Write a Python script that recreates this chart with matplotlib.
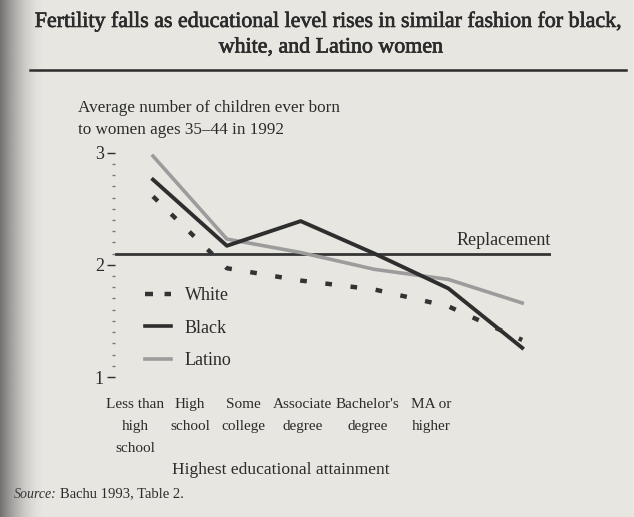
import numpy as np
import matplotlib
matplotlib.use("Agg")
import matplotlib.pyplot as plt
from matplotlib.lines import Line2D
import matplotlib.patheffects as pe

# average children ever born, women 35-44, 1992
levels = ["Less than\nhigh\nschool", "High\nschool", "Some\ncollege",
          "Associate\ndegree", "Bachelor's\ndegree", "MA or\nhigher"]
white = [2.61, 1.97, 1.86, 1.78, 1.63, 1.33]
black = [2.76, 2.17, 2.39, 2.10, 1.79, 1.26]
latino = [2.97, 2.23, 2.11, 1.96, 1.87, 1.66]
replacement = 2.1

# where the category captions sit along the axis (layout only)
label_pos = [-0.24, 0.50, 1.22, 2.03, 2.91, 3.77]

PAPER = "#e8e6e1"
INK = "#2b2b2b"
W, H = 634, 517

plt.rcParams["font.family"] = ["Liberation Serif", "DejaVu Serif"]
fig = plt.figure(figsize=(W / 100, H / 100), dpi=100, facecolor=PAPER)


def fx(px):
    return px / W


def fy(py):
    return 1 - py / H


ax = fig.add_axes([fx(115), fy(377), fx(551) - fx(115), fy(152.7) - fy(377)])
ax.set_facecolor("none")
x = np.arange(len(levels))

ax.axhline(replacement, color="#353535", lw=2.0, zorder=1)
ax.text(1.0, replacement + 0.12, "Replacement", transform=ax.get_yaxis_transform(),
        ha="right", va="center", fontsize=13, color=INK)

ax.plot(x, latino, color="#9c9c9c", lw=2.6, solid_joinstyle="round", clip_on=False, zorder=2)
ax.plot(x, black, color="#2e2e2e", lw=2.8, solid_joinstyle="round", clip_on=False, zorder=3)
ax.plot(x, white, color="#333333", lw=3.2, linestyle=(0, (1.5, 4.2)),
        dash_capstyle="butt", clip_on=False, zorder=4)

ax.set_xlim(-0.515, 5.39)
ax.set_ylim(1, 3)
for s in ax.spines.values():
    s.set_visible(False)
ax.set_yticks([1, 2, 3])
ax.set_yticks(np.arange(1.1, 3.0, 0.1), minor=True)
ax.tick_params(axis="y", which="major", length=6, width=1.0, pad=2,
               labelsize=13, colors=INK)
ax.tick_params(axis="y", which="minor", length=2, width=1.0, colors="#777777")
ax.set_xticks(label_pos)
ax.set_xticklabels(levels, fontsize=11, color=INK, linespacing=1.9)
ax.tick_params(axis="x", length=0, pad=15)

handles = [Line2D([], [], color="#333333", lw=3.2, linestyle=(0, (1.8, 2.6)), dash_capstyle="butt"),
           Line2D([], [], color="#2e2e2e", lw=2.6),
           Line2D([], [], color="#9c9c9c", lw=2.6)]
fig.legend(handles, ["White", "Black", "Latino"], loc="upper left",
           bbox_to_anchor=(fx(129), fy(271)), frameon=False, fontsize=13,
           handlelength=1.4, handletextpad=0.8, labelspacing=0.85, labelcolor=INK)

# headings
thick = [pe.withStroke(linewidth=0.5, foreground=INK)]
fig.text(fx(328), fy(22), "Fertility falls as educational level rises in similar fashion for black,",
         ha="center", va="center", fontsize=15.8, color=INK, path_effects=thick)
fig.text(fx(331), fy(48), "white, and Latino women",
         ha="center", va="center", fontsize=15.8, color=INK, path_effects=thick)
fig.add_artist(Line2D([fx(30), fx(626)], [fy(70), fy(70)], color="#2a2a2a", lw=1.8))
fig.text(fx(78), fy(108), "Average number of children ever born",
         ha="left", va="center", fontsize=12.3, color=INK)
fig.text(fx(78), fy(130), "to women ages 35\u201344 in 1992",
         ha="left", va="center", fontsize=12.3, color=INK)
fig.text(fx(281), fy(470), "Highest educational attainment",
         ha="center", va="center", fontsize=12.6, color=INK)
src = fig.text(fx(14), fy(494), "Source:", ha="left", va="center", fontsize=10,
               style="italic", color=INK)
fig.add_artist(plt.Annotation("Bachu 1993, Table 2.", xy=(1, 0.5), xycoords=src,
                              xytext=(2, 0), textcoords="offset points",
                              ha="left", va="center", fontsize=10.5, color=INK))

# scanner shadow on the left edge
sh = fig.add_axes([0, 0, fx(45), 1], zorder=10)
sh.axis("off")
ramp = np.linspace(0, 1, 90)
alpha = np.clip(1 - ramp, 0, 1) ** 1.8 * 0.92
img = np.zeros((2, 90, 4))
img[..., :3] = 0.40
img[..., 3] = alpha
sh.imshow(img, aspect="auto", extent=[0, 1, 0, 1])
sh.set_xlim(0, 1)
sh.set_ylim(0, 1)

fig.savefig("out.png", dpi=100, facecolor=PAPER)
